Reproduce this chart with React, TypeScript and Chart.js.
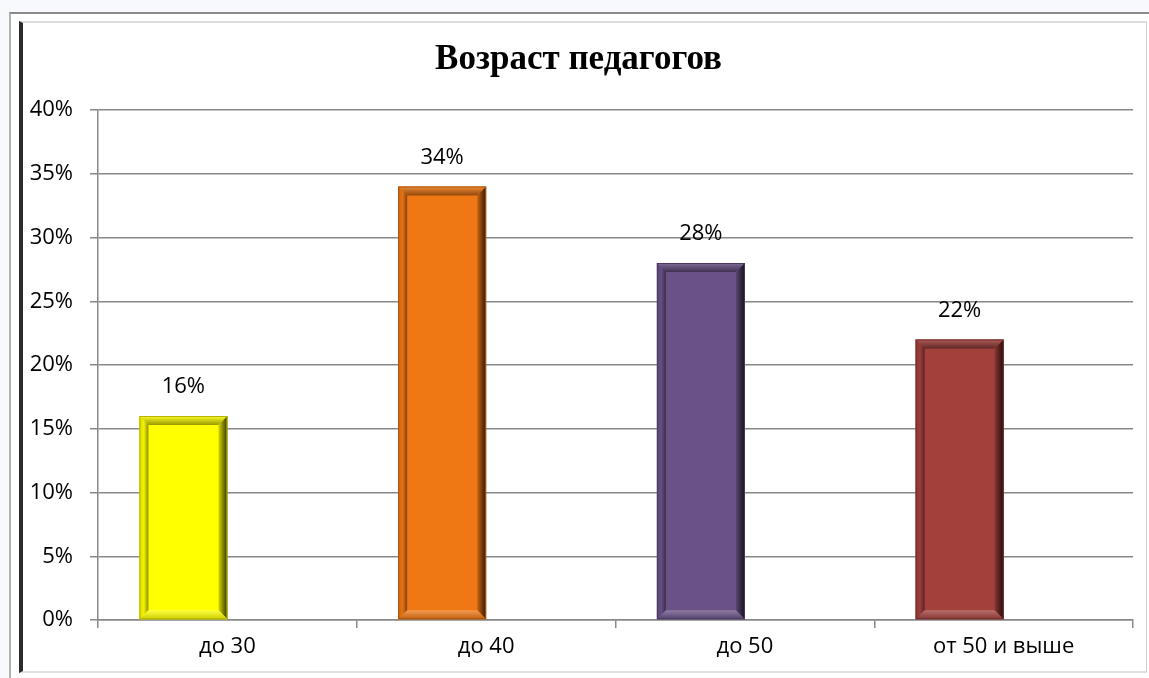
import React, { useEffect, useRef } from "react";
import { Chart, registerables } from "chart.js";

Chart.register(...registerables);

const categories = ["до 30", "до 40", "до 50", "от 50 и выше"];
const values = [16, 34, 28, 22];
const barColors = ["#FFFF00", "#F07814", "#6A5287", "#A2403C"];
const yTicks = [0, 5, 10, 15, 20, 25, 30, 35, 40];
const title = "Возраст педагогов";

const FONT = "'Open Sans', 'Noto Sans', sans-serif";

function hexToRgb(h: string) {
  const n = parseInt(h.slice(1), 16);
  return [(n >> 16) & 255, (n >> 8) & 255, n & 255];
}
function mix(h: string, target: number, t: number) {
  const [r, g, b] = hexToRgb(h);
  const f = (c: number) => Math.round(c + (target - c) * t);
  return `rgb(${f(r)},${f(g)},${f(b)})`;
}

const bevelPlugin = {
  id: "bevel",
  afterDatasetsDraw(chart: any) {
    const ctx = chart.ctx;
    const meta = chart.getDatasetMeta(0);
    meta.data.forEach((el: any, i: number) => {
      const c = barColors[i];
      const w = el.width;
      const l = el.x - w / 2;
      const r = el.x + w / 2;
      const t = el.y;
      const bot = el.base;
      const b = 9;
      ctx.save();
      // top
      let g = ctx.createLinearGradient(0, t, 0, t + b);
      g.addColorStop(0, mix(c, 255, 0.15));
      g.addColorStop(1, mix(c, 0, 0.4));
      ctx.fillStyle = g;
      ctx.beginPath();
      ctx.moveTo(l, t); ctx.lineTo(r, t); ctx.lineTo(r - b, t + b); ctx.lineTo(l + b, t + b); ctx.closePath();
      ctx.fill();
      // left
      g = ctx.createLinearGradient(l, 0, l + b, 0);
      g.addColorStop(0, mix(c, 0, 0.15));
      g.addColorStop(0.5, mix(c, 0, 0.05));
      g.addColorStop(1, mix(c, 0, 0.45));
      ctx.fillStyle = g;
      ctx.beginPath();
      ctx.moveTo(l, t); ctx.lineTo(l + b, t + b); ctx.lineTo(l + b, bot - b); ctx.lineTo(l, bot); ctx.closePath();
      ctx.fill();
      // right
      g = ctx.createLinearGradient(r - b, 0, r, 0);
      g.addColorStop(0, mix(c, 0, 0.15));
      g.addColorStop(1, mix(c, 0, 0.8));
      ctx.fillStyle = g;
      ctx.beginPath();
      ctx.moveTo(r, t); ctx.lineTo(r, bot); ctx.lineTo(r - b, bot - b); ctx.lineTo(r - b, t + b); ctx.closePath();
      ctx.fill();
      // bottom
      g = ctx.createLinearGradient(0, bot - b, 0, bot);
      g.addColorStop(0, mix(c, 255, 0.25));
      g.addColorStop(1, mix(c, 0, 0.2));
      ctx.fillStyle = g;
      ctx.beginPath();
      ctx.moveTo(l, bot); ctx.lineTo(l + b, bot - b); ctx.lineTo(r - b, bot - b); ctx.lineTo(r, bot); ctx.closePath();
      ctx.fill();
      ctx.strokeStyle = mix(c, 0, 0.3);
      ctx.lineWidth = 1;
      ctx.strokeRect(l + 0.5, t + 0.5, w - 1, bot - t - 1);
      ctx.restore();
      // label
      ctx.save();
      ctx.fillStyle = "#000";
      ctx.font = `22px ${FONT}`;
      ctx.textAlign = "center";
      ctx.textBaseline = "middle";
      ctx.fillText(values[i] + "%", el.x, t - 29);
      ctx.restore();
    });
  },
};

export default function App() {
  const ref = useRef<HTMLCanvasElement>(null);
  useEffect(() => {
    document.body.style.background = "#f7f9fd";
    const chart = new Chart(ref.current!, {
      type: "bar",
      data: {
        labels: categories,
        datasets: [
          { data: values, backgroundColor: barColors, borderWidth: 0, categoryPercentage: 0.68, barPercentage: 1 },
          { data: values.map(() => null), backgroundColor: "transparent", categoryPercentage: 0.68, barPercentage: 1 },
        ],
      },
      options: {
        animation: false,
        responsive: false,
        layout: { padding: { left: 0, right: 13, top: 0, bottom: 0 } },
        plugins: {
          legend: { display: false },
          tooltip: { enabled: false },
          title: {
            display: true,
            text: title,
            color: "#000",
            font: { family: "'Liberation Serif', 'Times New Roman', serif", size: 35, weight: "bold" },
            padding: { top: 15, bottom: 29 },
          },
        },
        scales: {
          x: {
            offset: true,
            grid: { display: true, offset: true, drawOnChartArea: false, drawTicks: true, tickLength: 8, color: "#888", lineWidth: 1.5 },
            border: { display: true, color: "#888", width: 1.5 },
            ticks: { color: "#000", font: { family: FONT, size: 22 }, padding: 6 },
            afterFit: (s: any) => { s.height = 52; },
          },
          y: {
            min: 0,
            max: 40,
            afterBuildTicks: (s: any) => { s.ticks = yTicks.map((v) => ({ value: v })); },
            grid: { color: "#888", lineWidth: 1.5, tickLength: 8 },
            border: { display: true, color: "#888", width: 1.5 },
            ticks: { color: "#000", font: { family: FONT, size: 22 }, padding: 17, callback: (v: any) => v + "%" },
            afterFit: (s: any) => { s.width = 74; },
          },
        },
      } as any,
      plugins: [bevelPlugin],
    });
    return () => chart.destroy();
  }, []);
  return (
    <div style={{ position: "absolute", left: 0, top: 0, width: 1149, height: 678 }}>
      <div style={{ position: "absolute", left: 9, top: 12, width: 1140, height: 666, borderTop: "2px solid #8a8a8a", borderLeft: "2px solid #b0b0b0", background: "#fff", boxSizing: "border-box" }} />
      <div style={{ position: "absolute", left: 19, top: 21, width: 1128, height: 652, borderTop: "2px solid #dcdcdc", borderLeft: "4px solid #2a2a2a", borderRight: "1px solid #d0d0d0", borderBottom: "2px solid #e0e0e0", background: "#fff", boxSizing: "border-box" }} />
      <canvas ref={ref} width={1122} height={648} style={{ position: "absolute", left: 24, top: 24, width: 1122, height: 648 }} />
    </div>
  );
}
